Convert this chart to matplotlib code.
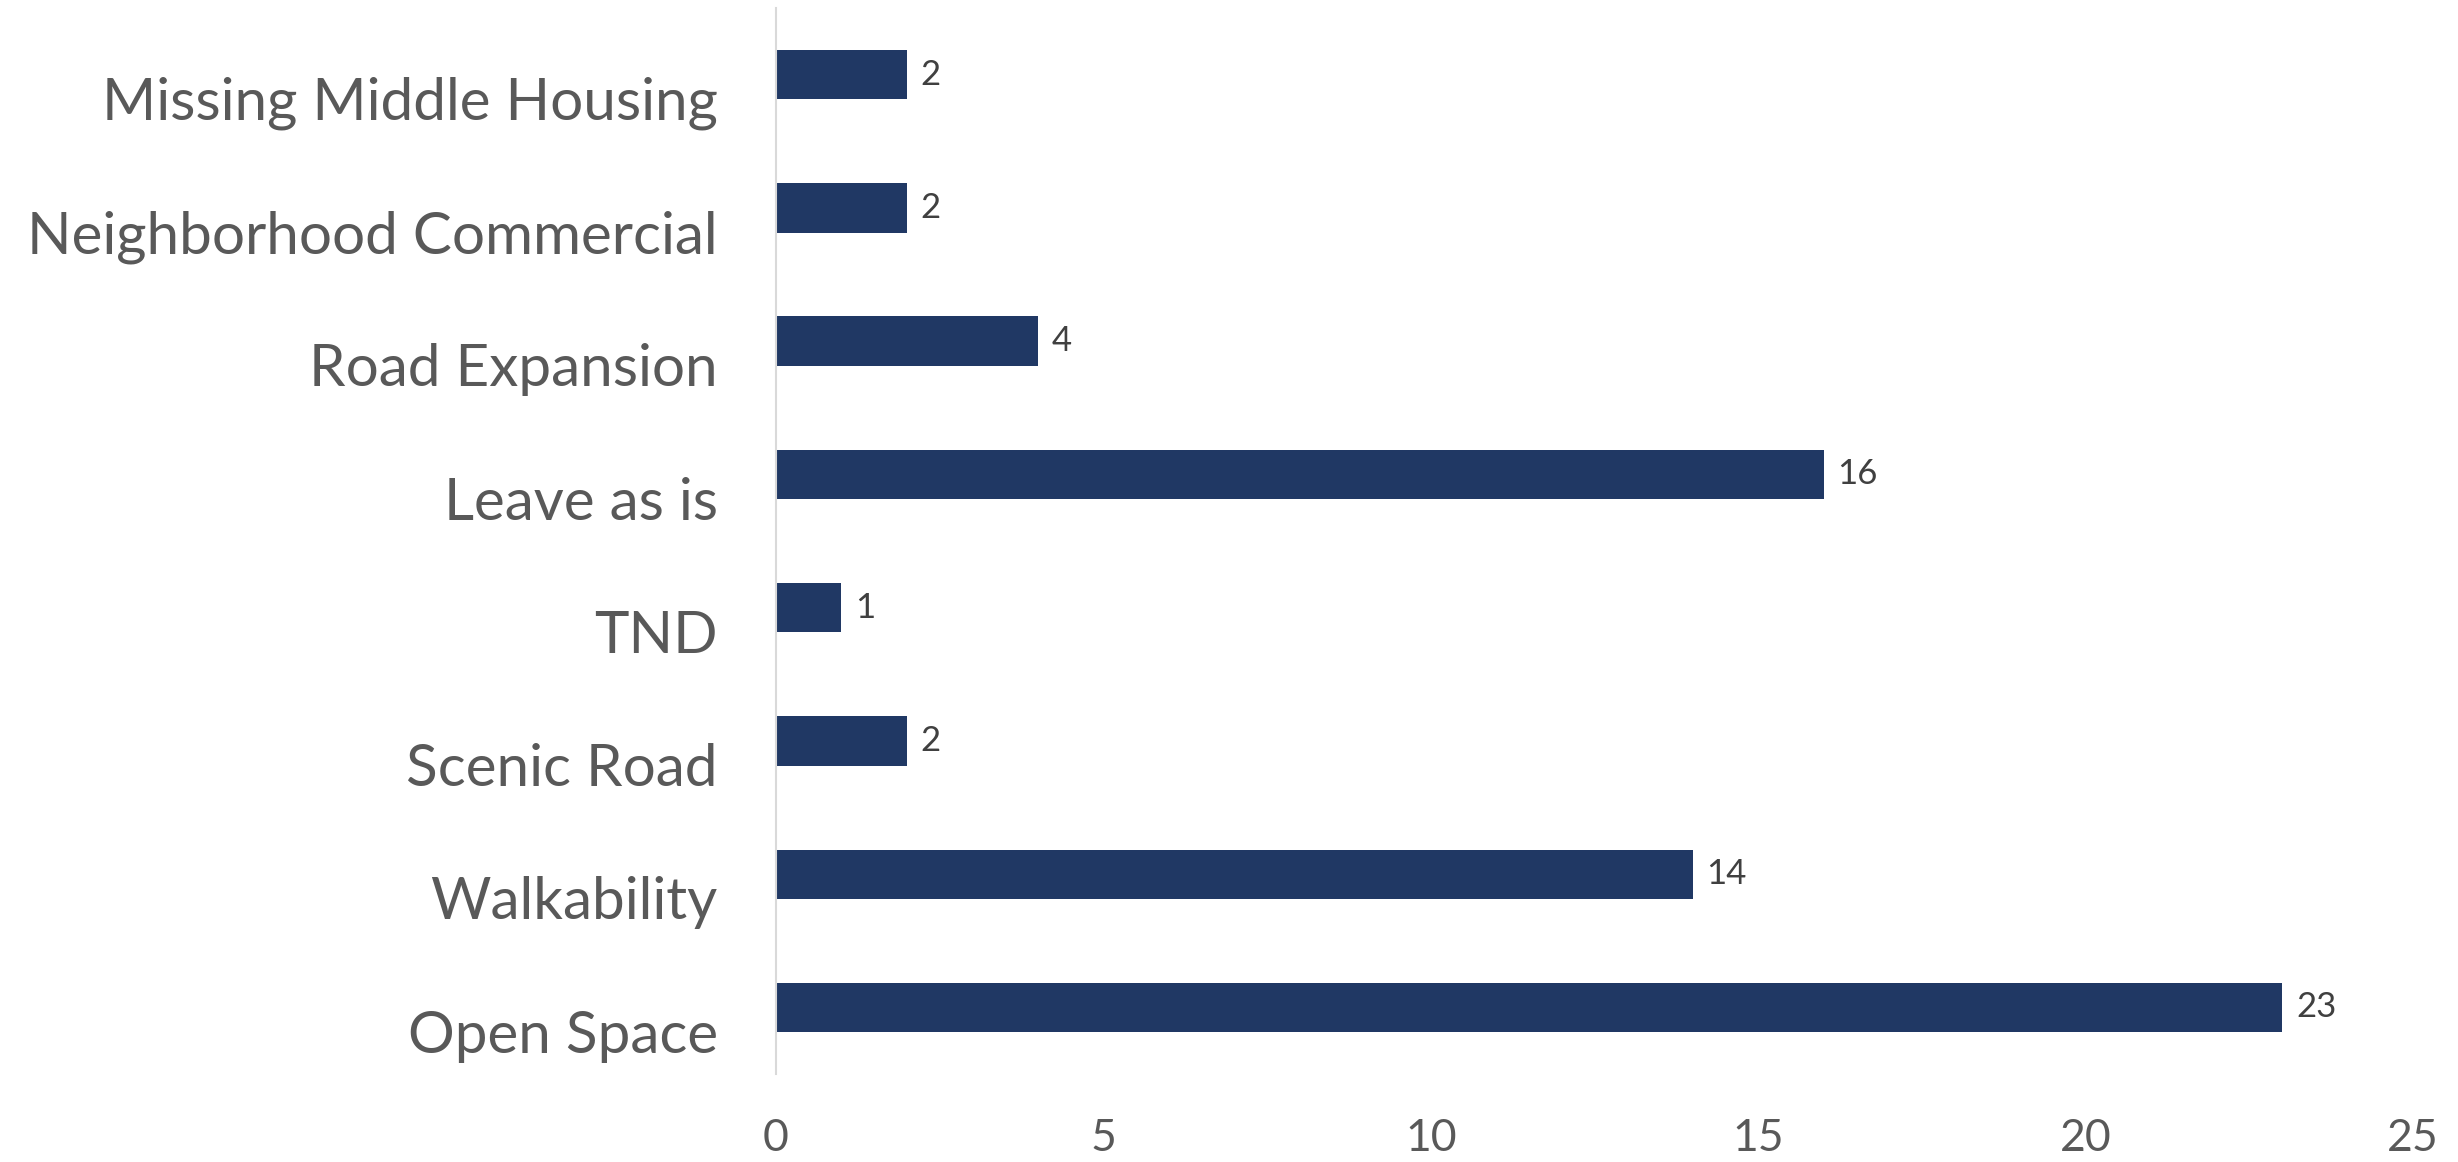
import matplotlib.pyplot as plt
from matplotlib.transforms import ScaledTranslation

# Survey responses per category (top to bottom as listed)
categories = ['Missing Middle Housing', 'Neighborhood Commercial', 'Road Expansion',
              'Leave as is', 'TND', 'Scenic Road', 'Walkability', 'Open Space']
counts = [2, 2, 4, 16, 1, 2, 14, 23]
xticks = [0, 5, 10, 15, 20, 25]

bar_color = '#203864'
label_gray = '#595959'

fig = plt.figure(figsize=(24.58, 11.62), dpi=100)
ax = fig.add_axes([0.3157, 0.0757, 0.666, 0.9174])

# barh draws from the bottom up, so reverse the lists
ypos = list(range(len(categories)))
bars = ax.barh(ypos, counts[::-1], height=0.37, color=bar_color)

ax.set_yticks(ypos)
ax.set_yticklabels(categories[::-1], fontsize=42, color=label_gray, family='Lato')
ax.set_xticks(xticks)
ax.set_xticklabels([str(t) for t in xticks], fontsize=32, color=label_gray, family='Lato')
ax.set_xlim(0, 25)
ax.set_ylim(-0.5, len(categories) - 0.5)

ax.tick_params(axis='y', length=0, pad=42)
ax.tick_params(axis='x', length=0, pad=32)

# category names sit a little below the bar centre
shift = ScaledTranslation(0, -17 / 72, fig.dpi_scale_trans)
for lbl in ax.get_yticklabels():
    lbl.set_transform(lbl.get_transform() + shift)

for side in ['top', 'right', 'bottom']:
    ax.spines[side].set_visible(False)
ax.spines['left'].set_color('#d9d9d9')
ax.spines['left'].set_linewidth(1.5)

# value labels at the end of each bar
for rect, v in zip(bars, counts[::-1]):
    ax.annotate(str(v), (rect.get_width(), rect.get_y() + rect.get_height() / 2),
                xytext=(10, 0), textcoords='offset points', ha='left', va='center',
                fontsize=25, color='#404040', family='Lato')

plt.savefig('out.png', dpi=100)
plt.close()
